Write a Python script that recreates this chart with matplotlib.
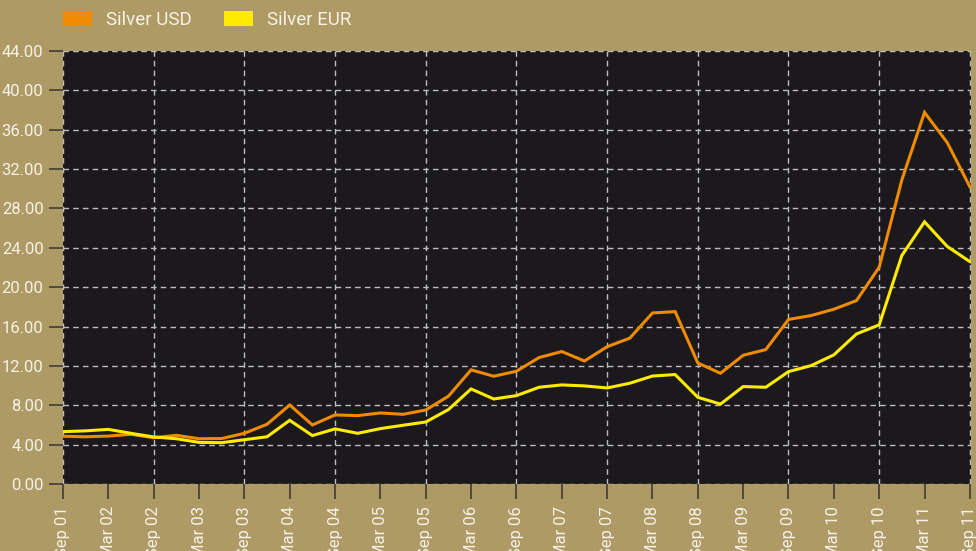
import matplotlib
matplotlib.use("Agg")
from matplotlib import pyplot as plt
from matplotlib.patches import Patch
import numpy as np

# quarterly silver price, Sep 01 .. Sep 11
usd = [4.85, 4.80, 4.87, 5.05, 4.70, 4.95, 4.60, 4.62, 5.15, 6.07,
       8.03, 6.00, 7.02, 6.95, 7.22, 7.08, 7.52, 8.92, 11.60, 10.95,
       11.46, 12.85, 13.46, 12.50, 13.95, 14.82, 17.38, 17.52, 12.30, 11.25,
       13.08, 13.66, 16.72, 17.12, 17.76, 18.64, 22.03, 30.90, 37.76, 34.70,
       30.20]
eur = [5.32, 5.40, 5.55, 5.15, 4.78, 4.60, 4.23, 4.20, 4.50, 4.80,
       6.47, 4.92, 5.60, 5.15, 5.63, 5.97, 6.30, 7.56, 9.66, 8.64,
       8.98, 9.83, 10.07, 9.97, 9.76, 10.24, 10.97, 11.12, 8.81, 8.12,
       9.90, 9.83, 11.42, 12.03, 13.12, 15.25, 16.17, 23.22, 26.64, 24.14,
       22.60]
sep_labels = ['Sep 01', 'Sep 02', 'Sep 03', 'Sep 04', 'Sep 05', 'Sep 06',
              'Sep 07', 'Sep 08', 'Sep 09', 'Sep 10', 'Sep 11']
mar_labels = ['Mar 02', 'Mar 03', 'Mar 04', 'Mar 05', 'Mar 06',
              'Mar 07', 'Mar 08', 'Mar 09', 'Mar 10', 'Mar 11']
yticks = np.arange(0, 45, 4)

bg = '#AE9A64'
dark = '#1B191C'
orange = '#F08A00'
yellow = '#FFEB00'
txt = '#F7F2E8'

plt.rcParams['font.family'] = ['Roboto', 'DejaVu Sans']

fig = plt.figure(figsize=(9.76, 5.51), dpi=100, facecolor=bg)
ax = fig.add_axes([63/976, 67/551, 908/976, 433/551])
ax.set_facecolor(dark)

q = np.arange(len(usd))
ax.plot(q, usd, color=orange, lw=2.2, solid_joinstyle='miter')
ax.plot(q, eur, color=yellow, lw=2.2, solid_joinstyle='miter')

ax.set_xlim(0, 40.05)
ax.set_ylim(0, 44)
ax.set_yticks(yticks)
ax.set_yticklabels(['%.2f' % v for v in yticks])
ax.set_xticks(np.arange(0, 41, 4))
ax.set_xticklabels(sep_labels)
ax.set_xticks(np.arange(2, 40, 4), minor=True)
ax.set_xticklabels(mar_labels, minor=True)

for which in ('major', 'minor'):
    ax.tick_params(axis='x', which=which, direction='out', length=11, width=1.3,
                   color='#4A4438', labelcolor=txt, labelsize=12,
                   labelrotation=90, pad=5)
ax.tick_params(axis='y', direction='out', length=10, width=1.3,
               color='#4A4438', labelcolor=txt, labelsize=12, pad=4)

ax.grid(axis='y', color='#BDBDBD', ls=(0, (4, 3)), lw=1)
ax.grid(axis='x', which='major', color='#BDBDBD', ls=(0, (4, 3)), lw=1)
for s in ax.spines.values():
    s.set_visible(False)

handles = [Patch(facecolor=orange, label='Silver USD'),
           Patch(facecolor=yellow, label='Silver EUR')]
fig.legend(handles=handles, loc='upper left', bbox_to_anchor=(63/976, 1 - 11/551),
           ncol=2, frameon=False, borderpad=0, borderaxespad=0,
           handlelength=1.55, handleheight=0.85, handletextpad=0.75,
           columnspacing=1.7, labelcolor=txt, prop={'size': 13.5})

fig.savefig('out.png', dpi=100, facecolor=bg)
